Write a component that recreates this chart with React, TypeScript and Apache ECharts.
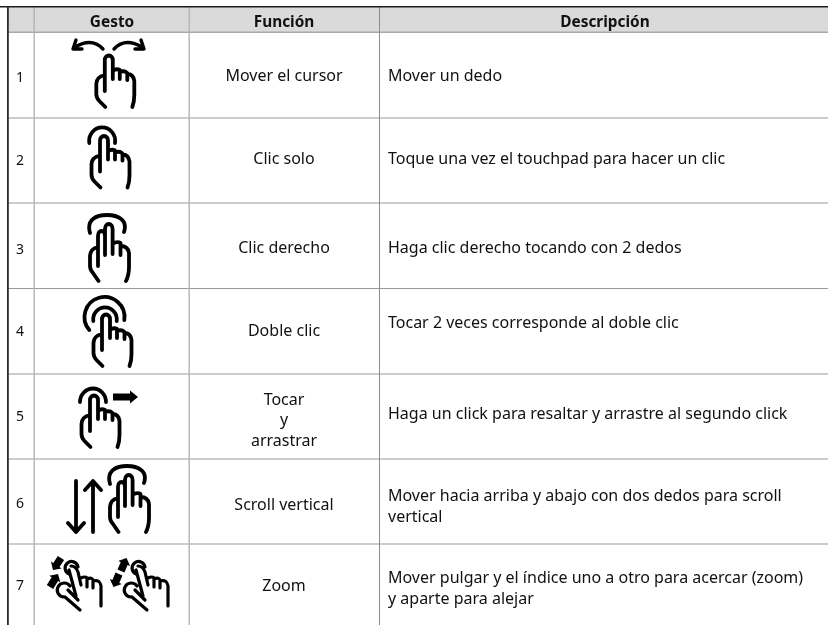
import React, { useEffect, useRef } from "react";
import * as echarts from "echarts";

const headers = ["Gesto", "Función", "Descripción"];
const numbers = ["1", "2", "3", "4", "5", "6", "7"];
const functions = ["Mover el cursor", "Clic solo", "Clic derecho", "Doble clic", "Tocar\ny\narrastrar", "Scroll vertical", "Zoom"];
const descriptions = [
  "Mover un dedo",
  "Toque una vez el touchpad para hacer un clic",
  "Haga clic derecho tocando con 2 dedos",
  "Tocar 2 veces corresponde al doble clic",
  "Haga un click para resaltar y arrastre al segundo click",
  "Mover hacia arriba y abajo con dos dedos para scroll\nvertical",
  "Mover pulgar y el índice uno a otro para acercar (zoom)\ny aparte para alejar",
];

// layout
const rowY = [32, 118, 203, 288.5, 374, 459, 544];
const numY = [76.5, 159.5, 248.5, 330.5, 415.5, 502.5, 584.5];
const funcY = [75, 158, 247, 330, 419, 504, 585];
const descY = [75, 158, 247, 322, 413, 505.5, 587.5];
const FONT = "'Noto Sans', sans-serif";

const ONE =
  "M-3.5,36 L-3.5,5 A4,4.5 0 0 1 4.5,5 L4.5,24 M4.5,16 Q8,13 11.5,15 L11.5,24 M11.5,17 Q16,15 19,18 L19,25 M19,19 Q25,19 26,26 L26,40 Q26,47 24,52 M-3.5,20 Q-12,22 -12,29 L-12,39 Q-12,43 -9,46 L-3,52";
const TWO =
  "M98,266 L98,236 A3.5,5 0 0 1 105,236 M105,255 L105,229 A3.8,5 0 0 1 112.6,229 L112.6,254 M112.6,244 Q117,241 120.5,243 L120.5,255 M120.5,246 Q128,246 129,253 L129,267 Q129,275 126,281 M98,247 Q90,249 90,256 L90,266 Q90,270 93,273 L98.5,281 M90,233 C86,219 97,215 107,215 C118,215 128,220 124,232";
const CURSOR =
  "M103,49 Q92,37 75,47 M76,40 L73,49 L82,49 M114,49 Q125,37 142,47 M141,40 L144,49 L135,49";
const RING2 = "M89.3,143 A13,13.5 0 1 1 115,143";
const RING4 = "M93.3,321 A11.8,12 0 1 1 116.7,321 M89.3,330 A20,20 0 1 1 124.3,320";
const RING5 = "M80,402 A13,13.5 0 1 1 106,402";
const ARROWS6 = "M76,481 L76,531 M68,523 L76,532 L84,523 M93,532 L93,482 M85,490 L93,481 L101,490";
const PINCH =
  "M69,574 A6.5,6.5 0 1 1 78,567 M71,566 Q76,566 78,572 L81,585 M69,570 L76,596 M81,578 Q85,576 87,578 L87,587 M87,579 Q92,577 93,580 L93,588 M93,581 Q100,579 101,586 L101,606 M70,586 A7,7 0 1 0 64,597 M68,590 L78,600 M65,597 L80,610";

const SHAPES: Record<string, string> = { ONE, TWO, CURSOR, RING2, RING4, RING5, ARROWS6, PINCH };
Object.keys(SHAPES).forEach((k) => {
  echarts.graphic.registerShape("g" + k, echarts.graphic.extendPath(SHAPES[k], {}) as any);
});

function stroke(name: string, x: number, y: number, lineWidth = 3.8) {
  return {
    type: "g" + name,
    x,
    y,
    style: { fill: "none", stroke: "#000", lineWidth, lineCap: "round", lineJoin: "round" },
  };
}

function arrow(x0: number, y0: number, x1: number, y1: number, sw = 6, hw = 12, hl = 7) {
  const L = Math.hypot(x1 - x0, y1 - y0);
  const ux = (x1 - x0) / L, uy = (y1 - y0) / L;
  const nx = -uy, ny = ux;
  const bx = x1 - ux * hl, by = y1 - uy * hl;
  const p = (x: number, y: number, s: number) => [x + nx * s, y + ny * s];
  return {
    type: "polygon",
    shape: {
      points: [
        p(x0, y0, sw / 2), p(bx, by, sw / 2), p(bx, by, hw / 2), [x1, y1],
        p(bx, by, -hw / 2), p(bx, by, -sw / 2), p(x0, y0, -sw / 2),
      ],
    },
    style: { fill: "#000" },
  };
}

function rect(x: number, y: number, width: number, height: number, fill: string) {
  return { type: "rect", shape: { x, y, width, height }, style: { fill } };
}

function label(text: string, x: number, y: number, align: string, fontSize: number, fontWeight = "normal", lineHeight = 20) {
  return {
    type: "text",
    x,
    y,
    style: { text, fill: "#111", font: `${fontWeight} ${fontSize}px ${FONT}`, align, verticalAlign: "middle", lineHeight },
  };
}

export default function App() {
  const ref = useRef<HTMLDivElement>(null);
  useEffect(() => {
    document.body.style.margin = "0";
    const chart = echarts.init(ref.current!, null, { renderer: "svg" });
    const els: any[] = [];
    els.push(rect(0, 0, 828, 625, "#fff"));
    els.push(rect(8, 7, 820, 25, "#dadada"));
    rowY.forEach((y, i) => els.push(rect(8, y - 0.5, 820, i === 0 ? 1.5 : 1, i === 0 ? "#a8a8a8" : "#9a9a9a")));
    els.push(rect(33.5, 7, 1.4, 618, "#b4b4b4"));
    els.push(rect(188.5, 7, 1.4, 618, "#b4b4b4"));
    els.push(rect(379, 7, 1, 618, "#8c8c8c"));
    els.push(rect(0, 6, 828, 1.6, "#1c1c1c"));
    els.push(rect(7, 6, 1.8, 619, "#2a2a2a"));

    const cx = [112, 284, 605];
    headers.forEach((h, i) => els.push(label(h, cx[i], 21, "center", 15.4, "bold")));
    numbers.forEach((n, i) => els.push(label(n, 20, numY[i], "center", 14)));
    functions.forEach((f, i) => els.push(label(f, 284, funcY[i], "center", 16, "normal", 20.5)));
    descriptions.forEach((d, i) => els.push(label(d, 388, descY[i], "left", 16, "normal", 20.5)));

    els.push(stroke("CURSOR", 0, 0, 3.4));
    els.push(stroke("ONE", 108.3, 55));
    els.push(stroke("ONE", 103.5, 135.5));
    els.push(stroke("RING2", 0, 0));
    els.push(stroke("TWO", 0, 0));
    els.push(stroke("ONE", 105.5, 314));
    els.push(stroke("RING4", 0, 0));
    els.push(stroke("ONE", 93.5, 395));
    els.push(stroke("RING5", 0, 0));
    els.push(arrow(113, 397, 138, 397, 7, 13, 8));
    els.push(stroke("TWO", 20, 251));
    els.push(stroke("ARROWS6", 0, 0));
    els.push(stroke("PINCH", 0, 0, 3.2));
    els.push(stroke("PINCH", 67, 0, 3.2));
    els.push(arrow(61, 558, 53, 570, 7.5, 13, 6));
    els.push(arrow(50, 587, 58, 574, 7.5, 13, 6));
    els.push(arrow(121, 571, 126.5, 558, 7.5, 13, 6));
    els.push(arrow(119, 574, 113.5, 587, 7.5, 13, 6));

    chart.setOption({ animation: false, graphic: { elements: els } });
    return () => chart.dispose();
  }, []);
  return <div ref={ref} style={{ position: "fixed", left: 0, top: 0, width: 828, height: 625 }} />;
}
